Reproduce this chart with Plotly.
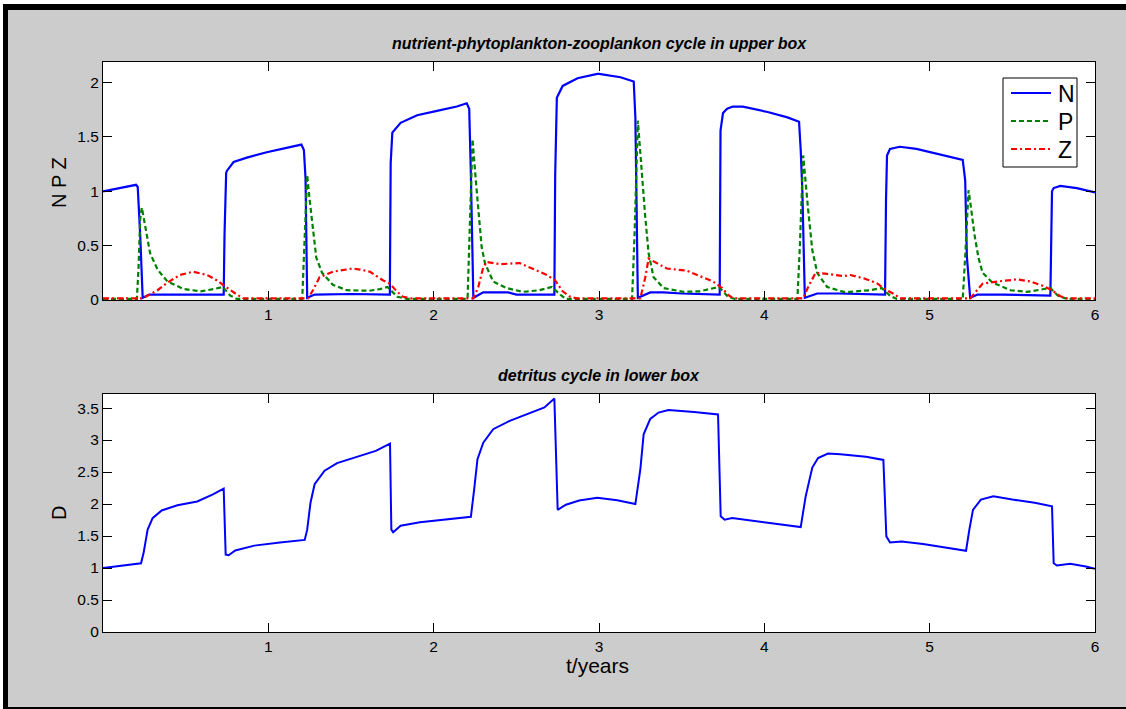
import plotly.graph_objects as go

# ---------------- data ----------------
t_N = [0, 0.10, 0.20, 0.21, 0.225, 0.24, 0.28, 0.50, 0.73, 0.735, 0.745, 0.75, 0.79, 0.87, 0.99,
       1.11, 1.20, 1.215, 1.225, 1.235, 1.28, 1.50, 1.735, 1.74, 1.745, 1.75, 1.80, 1.90, 2.02, 2.14,
       2.20, 2.215, 2.225, 2.24, 2.30, 2.45, 2.50, 2.73, 2.735, 2.745, 2.78, 2.87, 2.99, 3.0, 3.13,
       3.21, 3.22, 3.23, 3.235, 3.31, 3.39, 3.5, 3.73, 3.735, 3.75, 3.775, 3.81, 3.87, 4.02, 4.14,
       4.21, 4.22, 4.23, 4.245, 4.32, 4.45, 4.73, 4.736, 4.742, 4.76, 4.82, 4.92, 5.08, 5.20, 5.215,
       5.225, 5.245, 5.29, 5.44, 5.73, 5.74, 5.75, 5.79, 5.89, 6.0]
N_vals = [1.00, 1.03, 1.06, 1.04, 0.6, 0.02, 0.05, 0.05, 0.05, 0.6, 1.17, 1.19, 1.27, 1.31, 1.36,
          1.40, 1.43, 1.38, 1.12, 0.02, 0.05, 0.055, 0.05, 1.26, 1.50, 1.54, 1.63, 1.70, 1.74, 1.78,
          1.81, 1.76, 1.16, 0.02, 0.07, 0.07, 0.05, 0.05, 1.15, 1.86, 1.97, 2.04, 2.08, 2.08, 2.05,
          2.01, 1.68, 0.76, 0.02, 0.07, 0.07, 0.06, 0.05, 1.56, 1.72, 1.76, 1.78, 1.78, 1.73, 1.68,
          1.64, 1.38, 1.0, 0.02, 0.06, 0.06, 0.05, 0.92, 1.33, 1.39, 1.41, 1.39, 1.33, 1.29, 1.10,
          0.4, 0.02, 0.05, 0.05, 0.04, 1.0, 1.03, 1.05, 1.03, 0.99]

t_P = [0, 0.205, 0.215, 0.225, 0.235, 0.285, 0.33, 0.39, 0.49, 0.59, 0.67, 0.725, 0.77, 0.81,
       1.205, 1.215, 1.235, 1.25, 1.27, 1.29, 1.325, 1.39, 1.475, 1.61, 1.675, 1.72, 1.78, 1.84,
       2.205, 2.215, 2.235, 2.255, 2.27, 2.29, 2.31, 2.36, 2.44, 2.54, 2.64, 2.715, 2.765, 2.80,
       3.20, 3.215, 3.235, 3.25, 3.26, 3.28, 3.30, 3.33, 3.39, 3.51, 3.61, 3.69, 3.725, 3.78, 3.82,
       4.20, 4.215, 4.235, 4.25, 4.265, 4.29, 4.32, 4.38, 4.48, 4.52, 4.64, 4.71, 4.76, 4.80,
       5.20, 5.215, 5.235, 5.25, 5.27, 5.295, 5.32, 5.38, 5.49, 5.59, 5.68, 5.73, 5.775, 5.83, 6.0]
P_vals = [0.01, 0.01, 0.3, 0.75, 0.85, 0.43, 0.28, 0.17, 0.10, 0.08, 0.10, 0.12, 0.04, 0.01,
          0.01, 0.4, 1.15, 0.92, 0.67, 0.39, 0.25, 0.14, 0.09, 0.085, 0.10, 0.12, 0.03, 0.01,
          0.01, 0.5, 1.48, 1.10, 0.83, 0.49, 0.34, 0.17, 0.11, 0.075, 0.09, 0.12, 0.05, 0.01,
          0.01, 0.6, 1.65, 1.35, 1.13, 0.76, 0.43, 0.21, 0.11, 0.075, 0.08, 0.11, 0.12, 0.03, 0.01,
          0.01, 0.5, 1.33, 1.04, 0.83, 0.46, 0.25, 0.12, 0.075, 0.075, 0.09, 0.11, 0.04, 0.01,
          0.01, 0.4, 1.01, 0.85, 0.61, 0.39, 0.25, 0.16, 0.09, 0.075, 0.10, 0.11, 0.04, 0.01, 0.01]

t_Z = [0, 0.24, 0.33, 0.39, 0.465, 0.545, 0.63, 0.69, 0.725, 0.77, 0.81, 0.85,
       1.24, 1.27, 1.31, 1.39, 1.51, 1.555, 1.615, 1.695, 1.735, 1.78, 1.815, 1.86,
       2.24, 2.27, 2.30, 2.32, 2.40, 2.52, 2.60, 2.685, 2.735, 2.78, 2.825, 2.865,
       3.25, 3.28, 3.30, 3.35, 3.41, 3.53, 3.61, 3.69, 3.745, 3.78, 3.81,
       4.235, 4.265, 4.31, 4.38, 4.48, 4.52, 4.60, 4.68, 4.74, 4.79, 4.82,
       5.245, 5.285, 5.32, 5.41, 5.53, 5.61, 5.685, 5.74, 5.79, 5.83, 6.0]
Z_vals = [0.015, 0.015, 0.09, 0.16, 0.23, 0.26, 0.23, 0.18, 0.14, 0.09, 0.05, 0.015,
          0.015, 0.09, 0.21, 0.26, 0.29, 0.28, 0.26, 0.18, 0.15, 0.075, 0.03, 0.015,
          0.015, 0.12, 0.30, 0.35, 0.33, 0.34, 0.29, 0.23, 0.18, 0.08, 0.03, 0.015,
          0.015, 0.21, 0.38, 0.34, 0.29, 0.27, 0.22, 0.17, 0.11, 0.05, 0.015,
          0.015, 0.12, 0.25, 0.24, 0.22, 0.23, 0.20, 0.155, 0.09, 0.05, 0.015,
          0.015, 0.09, 0.15, 0.17, 0.19, 0.17, 0.13, 0.09, 0.035, 0.015, 0.015]

t_D = [0, 0.23, 0.245, 0.27, 0.30, 0.355, 0.45, 0.57, 0.665, 0.73, 0.742, 0.76, 0.80, 0.915,
       1.07, 1.22, 1.235, 1.255, 1.28, 1.34, 1.416, 1.53, 1.65, 1.736, 1.744, 1.755, 1.80, 1.917,
       2.07, 2.225, 2.245, 2.265, 2.30, 2.36, 2.46, 2.57, 2.67, 2.73, 2.74, 2.75, 2.80, 2.88, 2.99,
       3.11, 3.22, 3.25, 3.27, 3.31, 3.36, 3.42, 3.575, 3.72, 3.736, 3.76, 3.805, 3.92, 4.075,
       4.22, 4.25, 4.29, 4.325, 4.385, 4.46, 4.615, 4.72, 4.738, 4.76, 4.83, 4.96, 5.115, 5.22,
       5.24, 5.262, 5.31, 5.385, 5.50, 5.635, 5.74, 5.75, 5.77, 5.85, 5.945, 6.0]
D_vals = [1.0, 1.075, 1.23, 1.60, 1.78, 1.90, 1.98, 2.04, 2.15, 2.24, 1.21, 1.20, 1.275, 1.35,
          1.40, 1.44, 1.60, 2.02, 2.31, 2.52, 2.64, 2.73, 2.83, 2.945, 1.60, 1.56, 1.66, 1.715,
          1.755, 1.80, 2.23, 2.70, 2.96, 3.17, 3.30, 3.41, 3.51, 3.65, 2.54, 1.91, 1.99, 2.055, 2.10,
          2.06, 2.00, 2.54, 3.09, 3.33, 3.43, 3.47, 3.44, 3.40, 1.81, 1.755, 1.78, 1.74, 1.69,
          1.64, 2.12, 2.57, 2.72, 2.79, 2.78, 2.74, 2.69, 1.495, 1.40, 1.415, 1.375, 1.31, 1.27,
          1.60, 1.91, 2.07, 2.12, 2.07, 2.02, 1.965, 1.075, 1.04, 1.066, 1.025, 0.99]

x_ticks = [1, 2, 3, 4, 5, 6]
y1_ticks = [0, 0.5, 1, 1.5, 2]
y1_labels = ["0", "0.5", "1", "1.5", "2"]
y2_ticks = [0, 0.5, 1, 1.5, 2, 2.5, 3, 3.5]
y2_labels = ["0", "0.5", "1", "1.5", "2", "2.5", "3", "3.5"]

series_names = ["N", "P", "Z"]
series_colors = ["#0000ff", "#008000", "#ff0000"]
series_dash = ["solid", "5px,3px", "6px,3px,2px,3px"]

top_title = "nutrient-phytoplankton-zooplankon cycle in upper box"
bottom_title = "detritus cycle in lower box"

# ---------------- figure ----------------
W, H = 1126, 709
L, R, T, B = 103, 1095, 62, 632  # plot area in pixels
PW, PH = R - L, B - T


def px(xp):
    return (xp - L) / PW


def py(yp):
    return (B - yp) / PH


FONT = "Liberation Sans, Arial, Helvetica, sans-serif"

fig = go.Figure()
for name, tt, vv, col, dsh in zip(series_names, [t_N, t_P, t_Z], [N_vals, P_vals, Z_vals],
                                  series_colors, series_dash):
    fig.add_trace(go.Scatter(x=tt, y=vv, mode="lines", name=name, showlegend=False,
                             line=dict(color=col, width=2.2, dash=dsh), xaxis="x", yaxis="y"))
fig.add_trace(go.Scatter(x=t_D, y=D_vals, mode="lines", name="D", showlegend=False,
                         line=dict(color="#0000ff", width=2), xaxis="x2", yaxis="y2"))

axis_common = dict(showline=True, linecolor="black", linewidth=1, mirror="ticks",
                   ticks="inside", ticklen=9, tickwidth=1, tickcolor="black",
                   showgrid=False, zeroline=False,
                   tickfont=dict(family=FONT, size=15.5, color="black"))

fig.update_layout(
    width=W, height=H,
    margin=dict(l=L, r=W - R, t=T, b=H - B),
    paper_bgcolor="#cccccc", plot_bgcolor="white",
    xaxis=dict(domain=[0, 1], anchor="y", range=[0, 6], tickvals=x_ticks, **axis_common),
    yaxis=dict(domain=[py(300), 1], anchor="x", range=[0, 2.19], tickvals=y1_ticks,
               ticktext=y1_labels, **axis_common),
    xaxis2=dict(domain=[0, 1], anchor="y2", range=[0, 6], tickvals=x_ticks, **axis_common),
    yaxis2=dict(domain=[0, py(394)], anchor="x2", range=[0, 3.72], tickvals=y2_ticks,
                ticktext=y2_labels, **axis_common),
    showlegend=False,
)

annotations = [
    dict(text="<b><i>" + top_title + "</i></b>", x=0.5, y=py(44), xref="paper", yref="paper",
         xanchor="center", yanchor="middle", showarrow=False,
         font=dict(family=FONT, size=16, color="black")),
    dict(text="<b><i>" + bottom_title + "</i></b>", x=0.5, y=py(376), xref="paper", yref="paper",
         xanchor="center", yanchor="middle", showarrow=False,
         font=dict(family=FONT, size=16, color="black")),
    dict(text="N P Z", x=px(59), y=py(183), xref="paper", yref="paper", textangle=-90,
         xanchor="center", yanchor="middle", showarrow=False,
         font=dict(family=FONT, size=20, color="black")),
    dict(text="D", x=px(59), y=py(513), xref="paper", yref="paper", textangle=-90,
         xanchor="center", yanchor="middle", showarrow=False,
         font=dict(family=FONT, size=20, color="black")),
    dict(text="t/years", x=px(597), y=py(665), xref="paper", yref="paper",
         xanchor="center", yanchor="middle", showarrow=False,
         font=dict(family=FONT, size=21, color="black")),
]

# legend box (drawn like the MATLAB legend)
shapes = [
    dict(type="rect", xref="paper", yref="paper", x0=px(1003), x1=px(1077), y0=py(167), y1=py(78),
         fillcolor="white", line=dict(color="black", width=1), layer="above"),
]
leg_rows = [93, 121, 149]
for name, col, dsh, ry in zip(series_names, series_colors, series_dash, leg_rows):
    shapes.append(dict(type="line", xref="paper", yref="paper", x0=px(1011), x1=px(1051),
                       y0=py(ry), y1=py(ry), line=dict(color=col, width=2.2, dash=dsh),
                       layer="above"))
    annotations.append(dict(text=name, x=px(1056), y=py(ry + 1), xref="paper", yref="paper",
                            xanchor="left", yanchor="middle", showarrow=False,
                            font=dict(family=FONT, size=23, color="black")))

# window frame (black bands around the figure)
shapes += [
    dict(type="rect", xref="paper", yref="paper", x0=px(-5), x1=px(W + 5), y0=py(4), y1=py(-5),
         fillcolor="white", line=dict(width=0), layer="above"),
    dict(type="rect", xref="paper", yref="paper", x0=px(-5), x1=px(3), y0=py(W), y1=py(-5),
         fillcolor="white", line=dict(width=0), layer="above"),
    dict(type="rect", xref="paper", yref="paper", x0=px(3), x1=px(W + 5), y0=py(10), y1=py(4),
         fillcolor="black", line=dict(width=0), layer="above"),
    dict(type="rect", xref="paper", yref="paper", x0=px(3), x1=px(8), y0=py(H + 5), y1=py(4),
         fillcolor="black", line=dict(width=0), layer="above"),
    dict(type="rect", xref="paper", yref="paper", x0=px(3), x1=px(W + 5), y0=py(H + 5), y1=py(707),
         fillcolor="black", line=dict(width=0), layer="above"),
]
fig.update_layout(annotations=annotations, shapes=shapes)

fig.write_html("out.html",
               config={"displayModeBar": False},
               post_script="document.body.style.margin='0px';"
                           "document.body.style.overflow='hidden';"
                           "document.documentElement.style.overflow='hidden';")
